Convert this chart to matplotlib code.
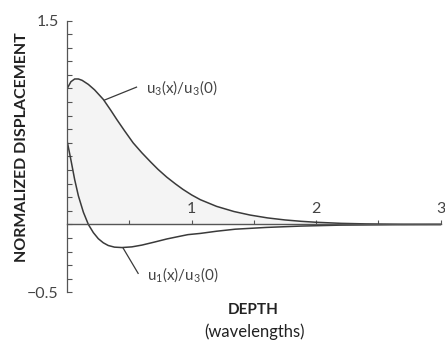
import matplotlib
matplotlib.use("Agg")
import matplotlib.pyplot as plt
import numpy as np

# vertical displacement u3(x)/u3(0)
u3_depth = [0.00, 0.03, 0.06, 0.09, 0.12, 0.17, 0.22, 0.29, 0.35, 0.40, 0.46,
            0.53, 0.60, 0.67, 0.73, 0.80, 0.87, 0.93, 1.00, 1.07, 1.20, 1.34,
            1.47, 1.61, 1.75, 1.88, 2.00, 2.20, 2.40, 2.70, 3.00]
u3_vals = [1.00, 1.05, 1.07, 1.07, 1.06, 1.03, 0.99, 0.92, 0.84, 0.77, 0.69,
           0.60, 0.527, 0.46, 0.405, 0.348, 0.298, 0.258, 0.217, 0.182, 0.133,
           0.095, 0.069, 0.048, 0.033, 0.023, 0.016, 0.008, 0.004, 0.001, 0.0]

# horizontal displacement u1(x)/u3(0)
u1_depth = [0.00, 0.02, 0.035, 0.06, 0.09, 0.13, 0.17, 0.21, 0.25, 0.29, 0.33,
            0.38, 0.44, 0.52, 0.60, 0.70, 0.80, 0.90, 0.97, 1.07, 1.20, 1.35,
            1.60, 1.88, 2.20, 2.60, 3.00]
u1_vals = [0.61, 0.52, 0.45, 0.33, 0.21, 0.09, 0.00, -0.06, -0.105, -0.135, -0.155,
           -0.167, -0.17, -0.165, -0.152, -0.13, -0.107, -0.088, -0.075, -0.066,
           -0.05, -0.035, -0.022, -0.012, -0.005, -0.002, 0.0]

x_major = [1, 2, 3]
x_labels = ["1", "2", "3"]
x_minor = [0.5, 1.5, 2.5]
y_major = [-0.5, 1.5]
y_labels = ["\u22120.5", "1.5"]

plt.rcParams["font.family"] = ["Lato", "Noto Sans", "DejaVu Sans"]
plt.rcParams["mathtext.fontset"] = "custom"
plt.rcParams["mathtext.rm"] = "Lato"
plt.rcParams["mathtext.it"] = "Lato"

line_col = "#3a3a3a"
axis_col = "#555555"

fig = plt.figure(figsize=(4.45, 3.42), dpi=100)
ax = fig.add_axes([0.151, 0.145, 0.839, 0.795])

ax.fill_between(u3_depth, 0, u3_vals, color="#f4f4f4", lw=0)
ax.plot(u3_depth, u3_vals, color=line_col, lw=1.1)
ax.plot(u1_depth, u1_vals, color=line_col, lw=1.1)

ax.set_xlim(0, 3)
ax.set_ylim(-0.5, 1.5)

for s in ["top", "right"]:
    ax.spines[s].set_visible(False)
ax.spines["left"].set_color(axis_col)
ax.spines["left"].set_linewidth(0.9)
ax.spines["bottom"].set_position(("data", 0))
ax.spines["bottom"].set_color(axis_col)
ax.spines["bottom"].set_linewidth(1.0)

ax.set_yticks(y_major)
ax.set_yticklabels(y_labels)
ax.set_yticks(np.round(np.arange(-0.5, 1.51, 0.1), 2), minor=True)
ax.tick_params(axis="y", which="both", direction="in", length=3.5, width=0.8,
               color=axis_col, labelsize=11.5, labelcolor="#444444", pad=6)

ax.set_xticks(x_major)
ax.set_xticklabels(x_labels)
ax.set_xticks(x_minor, minor=True)
ax.tick_params(axis="x", which="both", direction="in", length=3, width=0.8,
               color=axis_col, labelsize=11.5, labelcolor="#444444", pad=-16)

ax.plot([0.30, 0.557], [0.915, 1.01], color=line_col, lw=0.9)
ax.text(0.63, 1.01, "u$_3$(x)/u$_3$(0)", fontsize=11, color="#444444",
        va="center", ha="left")
ax.plot([0.45, 0.57], [-0.175, -0.36], color=line_col, lw=0.9)
ax.text(0.64, -0.37, "u$_1$(x)/u$_3$(0)", fontsize=11, color="#444444",
        va="center", ha="left")

fig.text(0.05, 0.57, "NORMALIZED DISPLACEMENT", rotation=90, fontsize=11.5,
         fontweight="bold", color="#222222", ha="center", va="center")
fig.text(0.57, 0.094, "DEPTH", fontsize=11, fontweight="bold",
         color="#222222", ha="center", va="center")
fig.text(0.573, 0.03, "(wavelengths)", fontsize=12, color="#222222",
         ha="center", va="center")

fig.savefig("out.png", dpi=100)
plt.close(fig)
